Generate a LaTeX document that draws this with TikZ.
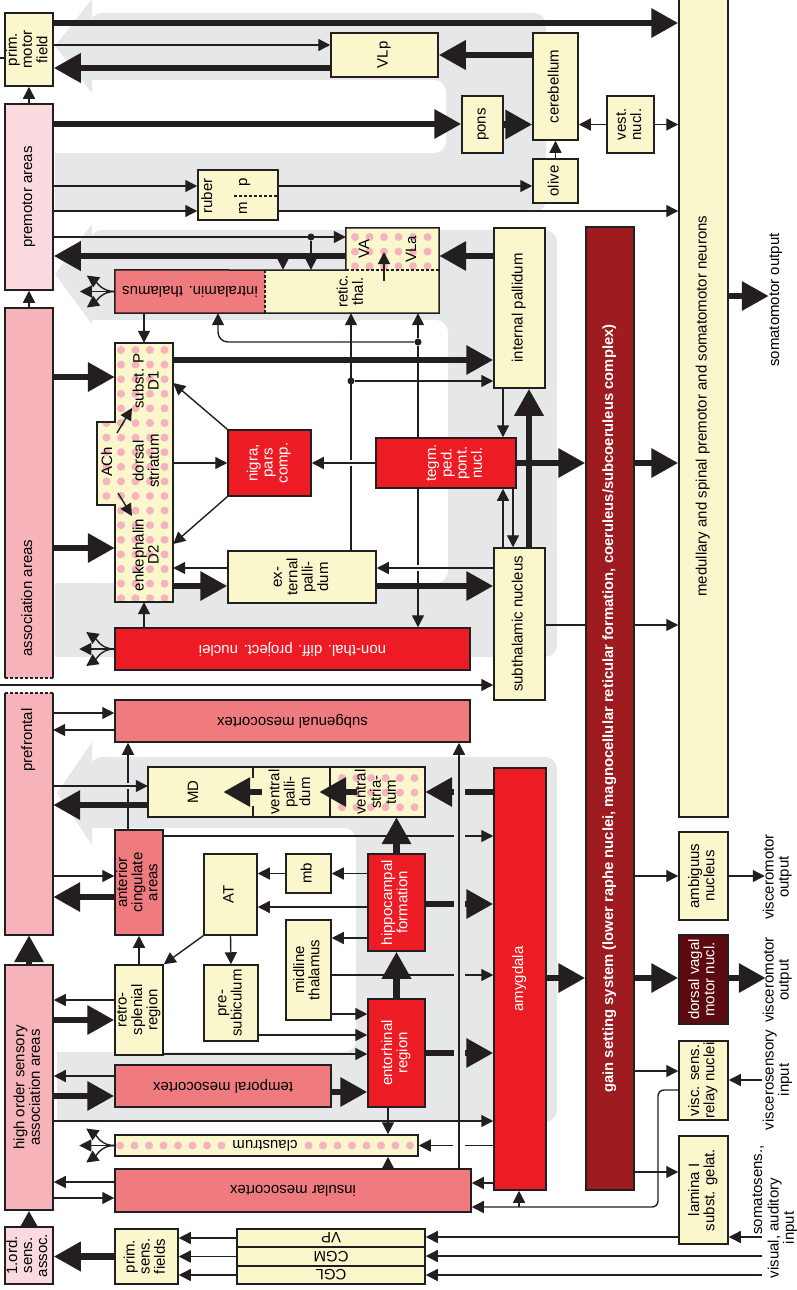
\documentclass[tikz,border=0pt]{standalone}
\usepackage{fontspec}
\setmainfont{Liberation Sans}
\usepackage{graphicx}
\usetikzlibrary{arrows.meta}

\pgfdeclarelayer{background}
\pgfdeclarelayer{edges}
\pgfsetlayers{background,edges,main}

\definecolor{ink}{RGB}{35,31,32}
\definecolor{cream}{RGB}{251,247,204}
\definecolor{blush}{RGB}{250,218,222}
\definecolor{rose}{RGB}{246,180,186}
\definecolor{salmon}{RGB}{239,123,127}
\definecolor{nucred}{RGB}{237,28,36}
\definecolor{gainred}{RGB}{158,27,32}
\definecolor{vagal}{RGB}{92,10,14}
\definecolor{loopgray}{RGB}{230,231,232}
\definecolor{dotpink}{RGB}{246,178,190}

% labels turned to read upwards, and labels turned upside down
\newcommand{\vt}[1]{\rotatebox{90}{\begin{tabular}{@{}c@{}}#1\end{tabular}}}
\newcommand{\ut}[1]{\rotatebox{180}{#1}}

% pink dot grid: columns, rows, x offset, y offset
\tikzset{dots/.style n args={4}{path picture={
  \foreach \i in {1,...,#1} \foreach \j in {1,...,#2}
    \fill[dotpink] ([shift={({#3+(\i-1)*14.5},{#4+(\j-1)*14.6})}]path picture bounding box.north west) circle (4pt);}}}

\begin{document}
\begin{tikzpicture}[x=1pt,y=-1pt,font=\fontsize{15}{15}\selectfont]
  \tikzstyle{box}=[draw=ink,line width=1.5pt,inner sep=0pt,fill=cream]
  \tikzstyle{bare}=[inner sep=0pt,fill=cream]
  \tikzstyle{rim}=[draw=ink,line width=1.5pt]
  \tikzstyle{rimdash}=[rim,dash pattern=on 3pt off 2pt]
  \tikzstyle{line}=[draw=ink,line width=1.4pt]
  \tikzstyle{arr}=[line,-{Triangle[length=12pt,width=12pt]}]
  \tikzstyle{fat}=[draw=ink,line width=6.5pt,-{Triangle[length=27pt,width=28pt]}]
  \tikzstyle{hub}=[circle,fill=ink,inner sep=0pt,minimum size=7pt]
  \tikzstyle{gap}=[line width=6pt]
  \useasboundingbox (0,0) rectangle (797,1290);

  % cortex column
  \node[box,minimum width=48,minimum height=73] (primmotor) at (29,49.5) {\vt{prim.\\motor\\field}};
  \node[box,fill=blush,minimum width=48,minimum height=186] (premotor) at (29,197) {\vt{premotor areas}};
  \node[bare,fill=rose,minimum width=48,minimum height=370] (assoc) at (29,493) {};
  \node (assoctext) at (29,598) {\vt{association areas}};
  \draw[rim] (assoc.south west) -- (assoc.north west) -- (assoc.north east) -- (assoc.south east);
  \draw[rimdash] (assoc.south west) -- (assoc.south east);
  \node[bare,fill=rose,minimum width=48,minimum height=242] (prefrontal) at (29,814) {};
  \node (preftext) at (29,740) {\vt{prefrontal}};
  \draw[rim] (prefrontal.north west) -- (prefrontal.south west) -- (prefrontal.south east) -- (prefrontal.north east);
  \draw[rimdash] (prefrontal.north west) -- (prefrontal.north east);
  \node[box,fill=rose,minimum width=48,minimum height=245] (hisens) at (29,1087.5) {\vt{high order sensory\\association areas}};
  \node[box,fill=blush,minimum width=48,minimum height=57] (firstord) at (29,1255.5) {\vt{1.ord.\\sens.\\assoc.}};

  % motor and cerebellar stations
  \node[box,minimum width=107,minimum height=44] (vlp) at (384.5,55) {\vt{VLp}};
  \node[box,minimum width=45,minimum height=107] (cerebellum) at (555.5,86.5) {\vt{cerebellum}};
  \node[box,minimum width=41,minimum height=57] (pons) at (482.5,124.5) {\vt{pons}};
  \node[box,minimum width=45,minimum height=44] (olive) at (555.5,181) {\vt{olive}};
  \node[box,minimum width=47,minimum height=57] (vest) at (630.5,124.5) {\vt{vest.\\nucl.}};
  \node[box,minimum width=80,minimum height=50] (ruber) at (238,195) {};
  \node (rubertext) at (209,196) {\vt{ruber}};
  \node (rubp) at (244,182) {\vt{p}};
  \node (rubm) at (244,208) {\vt{m}};
  \draw[rimdash,line width=1.2pt] (234,196) -- (ruber.east |- 0,196);
  \node[box,minimum width=49,minimum height=822] (medullary) at (703.5,406) {\vt{medullary and spinal premotor and somatomotor neurons}};
  \node[box,fill=gainred,text=white,font=\fontsize{14.8}{15}\selectfont\bfseries,minimum width=48,minimum height=963] (gain) at (610,708.5) {\vt{gain setting system (lower raphe nuclei, magnocellular reticular formation, coeruleus/subcoeruleus complex)}};

  % thalamus and basal ganglia
  \node[bare,fill=salmon,minimum width=150,minimum height=43] (intralamin) at (190,291.5) {\ut{intralamin. thalamus}};
  \node[bare,minimum width=174,minimum height=43] (retic) at (352,291.5) {\vt{retic.\\thal.}};
  \node[bare,dots={6}{3}{9}{9},minimum width=93,minimum height=42] (vala) at (392.5,249) {};
  \node (vatext) at (366,249) {\vt{VA}};
  \node (vlatext) at (413,249) {\vt{VLa}};
  \draw[rim] (intralamin.south west) -- (intralamin.north west) -- (vala.south west) -- (vala.north west) -- (vala.north east) -- (retic.south east) -- cycle;
  \draw[rimdash] (intralamin.north east) -- (intralamin.south east);
  \draw[rimdash] (vala.south west) -- (vala.south east);
  \node[box,minimum width=51,minimum height=160] (intpall) at (519.5,308) {\vt{internal pallidum}};
  \node[box,minimum width=51,minimum height=152] (subthal) at (519.5,624) {\vt{subthalamic nucleus}};
  \node[box,fill=nucred,minimum width=140,minimum height=50] (tegm) at (446,463) {};
  \node[text=white] (tegmtext) at (456,463) {\vt{tegm.\\ped.\\pont.\\nucl.}};
  \node[box,fill=nucred,text=white,minimum width=83,minimum height=66] (nigra) at (269.5,463) {\vt{nigra,\\pars\\comp.}};
  \node[box,minimum width=148,minimum height=52] (extpall) at (302,577) {\vt{ex-\\ternal\\palli-\\dum}};
  \node[bare,dots={4}{18}{6}{7},minimum width=58,minimum height=259] (striatum) at (144,472.5) {};
  \node[bare,dots={2}{6}{9.5}{1},minimum width=28,minimum height=83] (ach) at (111,463.5) {};
  \draw[rim] (striatum.north west) -- (striatum.north east) -- (striatum.south east) -- (striatum.south west)
    -- (ach.south west -| striatum.west) -- (ach.south west) -- (ach.north west) -- (ach.north west -| striatum.west) -- cycle;
  \node (d1text) at (148,381) {\vt{subst. P\\D1}};
  \node (dstext) at (148,461) {\vt{dorsal\\striatum}};
  \node (d2text) at (148,555) {\vt{enkephalin\\D2}};
  \node (achtext) at (109,462) {\vt{ACh}};
  \node[box,fill=nucred,text=white,minimum width=355,minimum height=42] (nonthal) at (292.5,649) {\ut{non-thal. diff. project. nuclei}};

  % limbic stations
  \node[box,fill=salmon,minimum width=355,minimum height=42] (subgenual) at (292.5,721) {\ut{subgenual mesocortex}};
  \node[bare,minimum width=105,minimum height=50] (md) at (200.5,792) {};
  \node (mdtext) at (195,792) {\vt{MD}};
  \node[bare,minimum width=77,minimum height=50] (vpall) at (291.5,792) {\vt{ventral\\palli-\\dum}};
  \node[bare,dots={6}{3}{12}{11},minimum width=95,minimum height=50] (vstr) at (377.5,792) {\vt{ventral\\stria-\\tum}};
  \draw[rim] (md.north west) rectangle (vstr.south east);
  \draw[rim] (vpall.north east) -- (vpall.south east);
  \draw[rim] (md.north east) -- ++(0,11);
  \draw[rim] (md.south east) -- ++(0,-11);
  \node[box,fill=salmon,minimum width=48,minimum height=105] (antcing) at (139,882.5) {\vt{anterior\\cingulate\\areas}};
  \node[box,minimum width=53,minimum height=81] (antthal) at (230.5,894.5) {\vt{AT}};
  \node[box,minimum width=45,minimum height=39] (mb) at (308.5,873.5) {\vt{mb}};
  \node[box,minimum width=45,minimum height=100] (midline) at (308.5,970) {\vt{midline\\thalamus}};
  \node[box,fill=nucred,text=white,minimum width=57,minimum height=97] (hippo) at (396.5,902.5) {\vt{hippocampal\\formation}};
  \node[box,fill=nucred,text=white,minimum width=57,minimum height=108] (entorhinal) at (396.5,1053) {\vt{entorhinal\\region}};
  \node[box,fill=nucred,text=white,minimum width=52,minimum height=422] (amygdala) at (520,979) {\vt{amygdala}};
  \node[box,minimum width=48,minimum height=90] (retro) at (139,1010) {\vt{retro-\\splenial\\region}};
  \node[box,minimum width=54,minimum height=76] (presub) at (231,1003) {\vt{pre-\\subiculum}};
  \node[box,fill=salmon,minimum width=216,minimum height=42] (temporal) at (223,1086) {\ut{temporal mesocortex}};
  \node[box,dots={21}{1}{5}{10.5},minimum width=303,minimum height=21] (claustrum) at (266.5,1145.5) {};
  \node[bare,inner xsep=3pt] (claustext) at (265,1145.5) {\ut{claustrum}};
  \node[box,fill=salmon,minimum width=356,minimum height=43] (insular) at (293,1190.5) {\ut{insular mesocortex}};

  % sensory relays
  \node[box,minimum width=188,minimum height=18] (vp) at (331,1238) {\ut{VP}};
  \node[box,minimum width=188,minimum height=19] (cgm) at (331,1256.5) {\ut{CGM}};
  \node[box,minimum width=188,minimum height=18] (cgl) at (331,1275) {\ut{CGL}};
  \node[box,minimum width=63,minimum height=55] (primsens) at (146.5,1256.5) {\vt{prim.\\sens.\\fields}};

  % brainstem outputs and inputs
  \node[box,minimum width=49,minimum height=88] (ambiguus) at (703.5,876) {\vt{ambiguus\\nucleus}};
  \node[box,fill=vagal,text=white,minimum width=49,minimum height=89] (dvagal) at (703.5,979.5) {\vt{dorsal vagal\\motor nucl.}};
  \node[box,minimum width=49,minimum height=79] (viscrelay) at (703.5,1080.5) {\vt{visc. sens.\\relay nuclei}};
  \node[box,minimum width=49,minimum height=108] (lamina) at (703.5,1190) {\vt{lamina I\\subst. gelat.}};
  \node (somlabel) at (776,300) {\vt{somatomotor output}};
  \node (ambilabel) at (778,877) {\vt{visceromotor\\output}};
  \node (vagallabel) at (778,980) {\vt{visceromotor\\output}};
  \node (visclabel) at (778,1080) {\vt{viscerosensory\\input}};
  \node (somsenslabel) at (759,1190) {\vt{somatosens.,}};
  \node (audlabel) at (783,1228) {\vt{visual, auditory\\input}};

  % arrows inside the compound boxes
  \coordinate (retup) at (384,281);
  \coordinate (vaup) at (384,252);
  \draw[arr] (retup) -- (vaup);
  \coordinate (achA) at (117,433);
  \coordinate (achB) at (118,493);
  \draw[arr] (achA) -- ++(15,-25);
  \draw[arr] (achB) -- ++(14,23);
  \draw[fat] ([xshift=-21pt]vstr.center) -- ([xshift=-11pt]vpall.east);
  \draw[fat] ([xshift=9pt]vpall.west) -- ([xshift=-30pt]md.east);
  % long insular to subgenual line, above the limbic arrows
  \draw[arr] (insular.north -| 459,0) -- (subgenual.south -| 459,0);

  \begin{pgfonlayer}{background}
    % cerebellar loop
    \fill[loopgray,rounded corners=12] (90,13) rectangle (546,212);
    \fill[white,rounded corners=12] (40,80) rectangle (446,153);
    \fill[loopgray] (55,153) rectangle (100,212);
    \fill[loopgray] (55,46) -- (92,-1) -- (92,93) -- cycle;
    % basal ganglia loop
    \fill[loopgray,rounded corners=12] (90,230) rectangle (557,657);
    \fill[white,rounded corners=12] (40,320) rectangle (448,583);
    \fill[loopgray] (55,583) rectangle (100,657);
    \fill[loopgray] (55,274) -- (92,224) -- (92,324) -- cycle;
    % limbic loop
    \fill[loopgray,rounded corners=12] (90,757) rectangle (557,1122);
    \fill[white,rounded corners=12] (40,828) rectangle (356,1052);
    \fill[loopgray] (57,1052) rectangle (100,1122);
    \fill[loopgray] (57,793) -- (92,742) -- (92,845) -- cycle;
  \end{pgfonlayer}

  \begin{pgfonlayer}{edges}
  % motor cortex, cerebellum and brainstem
  \coordinate (outleft) at (0,58);
  \draw[line] (primmotor.west |- outleft) -- (outleft);
  \draw[fat] (primmotor.east |- 0,23) -- (medullary.west |- 0,23);
  \draw[arr] (primmotor.east |- 0,45) -- (vlp.west |- 0,45);
  \draw[fat] (vlp.west |- 0,68) -- (primmotor.east |- 0,68);
  \draw[fat] (cerebellum.west |- 0,55) -- (vlp.east |- 0,55);
  \draw[arr] (premotor.north) -- (primmotor.south);
  \draw[arr] (assoc.north) -- (premotor.south);
  \draw[fat] (premotor.east |- 0,124) -- (pons.west |- 0,124);
  \draw[fat] (pons.east) -- (cerebellum.west |- pons.east);
  \draw[arr] (olive.north) -- (cerebellum.south);
  \draw[arr] (vest.west) -- (cerebellum.east |- vest.west);
  \draw[arr] (vest.east) -- (medullary.west |- vest.east);
  \draw[arr] (premotor.east |- 0,186) -- (ruber.west |- 0,186);
  \draw[arr] (premotor.east |- 0,211) -- (ruber.west |- 0,211);
  \draw[arr] (ruber.east |- 0,186) -- (olive.west |- 0,186);
  \draw[arr] (ruber.east |- 0,211) -- (medullary.west |- 0,211);
  \draw[fat] (medullary.east |- 0,296) -- ++(40,0);

  % thalamic loop
  \draw[arr] (premotor.east |- 0,237) -- (vala.west |- 0,237);
  \node[hub] (hubva) at (311,237) {};
  \draw[arr] (hubva) -- (retic.north -| hubva);
  \draw[fat] (vala.west |- 0,256) -- (premotor.east |- 0,256);
  \coordinate (tapva) at (283,256);
  \draw[arr] (tapva) -- (retic.north -| tapva);
  \draw[fat] (intpall.west |- 0,256) -- (vala.east |- 0,256);
  \draw[arr] (intralamin.west) to[out=180,in=-35] ++(-28,-16);
  \draw[arr] (intralamin.west) -- ++(-35,0);
  \draw[arr] (intralamin.west) to[out=180,in=35] ++(-28,16);
  \draw[arr] (intralamin.south -| striatum.north) -- (striatum.north);

  % basal ganglia
  \node[hub] (hubret) at (418,342) {};
  \draw[arr] (hubret) -- (retic.south -| hubret);
  \draw[arr,rounded corners=10] (hubret) -- (218,342) -- (intralamin.south -| 218,0);
  \draw[arr] (hubret) -- (nonthal.north -| hubret);
  \node[hub] (hubext) at (351,381) {};
  \draw[arr] (extpall.north -| hubext) -- (retic.south -| hubext);
  \draw[arr] (hubext) -- (intpall.west |- hubext);
  \draw[fat] (striatum.east |- 0,360) -- (intpall.west |- 0,360);
  \draw[fat] (assoc.east |- 0,377) -- (striatum.west |- 0,377);
  \draw[fat] (assoc.east |- 0,548) -- (striatum.west |- 0,548);
  \draw[arr] (nigra.north west) -- (striatum.east |- 0,383);
  \draw[arr] (nigra.south west) -- (striatum.east |- 0,544);
  \draw[arr] (striatum.east |- nigra.west) -- (nigra.west);
  \draw[gap,white] (344,463) -- (358,463);
  \draw[arr] (tegm.west) -- (nigra.east);
  \draw[fat] (tegm.east) -- (gain.west |- tegm.east);
  \draw[arr] (intpall.south -| 503,0) -- (tegm.north -| 503,0);
  \draw[arr] (subthal.north -| 503,0) -- (tegm.south -| 503,0);
  \draw[arr] (tegm.south -| 513,0) -- (subthal.north -| 513,0);
  \draw[fat] (subthal.north -| 529,0) -- (intpall.south -| 529,0);
  \draw[gap,white] (411,568) -- (425,568);
  \draw[arr] (subthal.west |- 0,568) -- (extpall.east |- 0,568);
  \draw[fat] (extpall.east |- 0,586) -- (subthal.west |- 0,586);
  \draw[fat] (striatum.east |- 0,586) -- (extpall.west |- 0,586);
  \draw[arr] (extpall.west |- 0,568) -- (striatum.east |- 0,568);
  \draw[arr] (nonthal.north -| striatum.south) -- (striatum.south);
  \draw[arr] (nonthal.west) to[out=180,in=-35] ++(-28,-17);
  \draw[arr] (nonthal.west) -- ++(-35,0);
  \draw[arr] (nonthal.west) to[out=180,in=35] ++(-28,17);
  \coordinate (leftgap) at (0,685);
  \draw[arr] (leftgap) -- (subthal.west |- leftgap);
  \draw[line] (subthal.east |- 0,625) -- (gain.west |- 0,625);
  \draw[arr] (gain.east |- 0,625) -- (medullary.west |- 0,625);
  \draw[fat] (gain.east |- 0,463) -- (medullary.west |- 0,463);

  % limbic loop
  \draw[arr] (prefrontal.east |- 0,713) -- (subgenual.west |- 0,713);
  \draw[arr] (subgenual.west |- 0,730) -- (prefrontal.east |- 0,730);
  \draw[arr] (antcing.north -| 128,0) -- (subgenual.south -| 128,0);
  \draw[gap,loopgray] (121,786) -- (135,786);
  \draw[arr] (prefrontal.east |- 0,786) -- (md.west |- 0,786);
  \draw[fat] (md.west |- 0,805) -- (prefrontal.east |- 0,805);
  \draw[arr] (prefrontal.east |- 0,876) -- (antcing.west |- 0,876);
  \draw[fat] (antcing.west |- 0,897) -- (prefrontal.east |- 0,897);
  \draw[arr] (antcing.east |- 0,836) -- (amygdala.west |- 0,836);
  \draw[fat] (hippo.north) -- (vstr.south -| hippo.north);
  \draw[fat] (amygdala.west |- 0,792) -- (vstr.east |- 0,792);
  \draw[arr] (hippo.west |- mb.east) -- (mb.east);
  \draw[arr] (mb.west) -- (antthal.east |- mb.west);
  \draw[arr] (hippo.west |- 0,907) -- (antthal.east |- 0,907);
  \draw[arr] (hippo.west |- 0,938) -- (midline.east |- 0,938);
  \draw[fat] (hippo.east |- 0,904) -- (amygdala.west |- 0,904);
  \draw[arr] (antthal.south west) -- (retro.north east);
  \draw[arr] (antthal.south) -- (presub.north);
  \draw[arr] (retro.north) -- (antcing.south);
  \draw[arr] (retro.west |- 0,1000) -- (hisens.east |- 0,1000);
  \draw[fat] (hisens.east |- 0,1020) -- (retro.west |- 0,1020);
  \draw[arr] (presub.east |- 0,1035) -- (entorhinal.west |- 0,1035);
  \draw[arr] (retro.east |- 0,1054) -- (entorhinal.west |- 0,1054);
  \draw[arr] (midline.east |- 0,1014) -- (entorhinal.west |- 0,1014);
  \draw[arr] (midline.east |- 0,975) -- (amygdala.west |- 0,975);
  \draw[fat] (entorhinal.north) -- (hippo.south);
  \draw[fat] (entorhinal.east |- 0,1053) -- (amygdala.west |- 0,1053);
  \draw[fat] (temporal.east |- 0,1092) -- (entorhinal.west |- 0,1092);
  \draw[arr] (temporal.west |- 0,1076) -- (hisens.east |- 0,1076);
  \draw[fat] (hisens.east |- 0,1096) -- (temporal.west |- 0,1096);
  \draw[arr] (hisens.east |- 0,1121) -- (amygdala.west |- 0,1121);
  \draw[arr] (entorhinal.south -| 388,0) -- (claustrum.north -| 388,0);
  \draw[arr] (insular.north -| 388,0) -- (claustrum.south -| 388,0);
  \draw[arr] (claustrum.west) to[out=180,in=-35] ++(-28,-17);
  \draw[arr] (claustrum.west) -- ++(-35,0);
  \draw[arr] (claustrum.west) to[out=180,in=35] ++(-28,17);
  \draw[arr] (insular.west |- 0,1182) -- (hisens.east |- 0,1182);
  \draw[arr] (hisens.east |- 0,1198) -- (insular.west |- 0,1198);
  \draw[arr] (amygdala.west |- 0,1183) -- (insular.east |- 0,1183);
  \draw[fat] (hisens.north) -- (prefrontal.south);
  % gaps where the insular to subgenual line crosses
  \draw[loopgray,line width=11pt] (459,758) -- (459,1117);
  \draw[gap,white] (453,1145) -- (465,1145);
  \draw[arr] (amygdala.west |- claustrum.east) -- (claustrum.east);
  \draw[gap,white] (453,1145) -- (465,1145);

  % sensory input
  \draw[arr,rounded corners=6] (viscrelay.west |- 0,1090) -- (658,1090) -- (658,1207) -- (insular.east |- 0,1207);
  \coordinate (visctap) at (519,1207);
  \draw[arr] (visctap) -- (amygdala.south -| visctap);
  \coordinate (somin) at (762,1237);
  \coordinate (visin) at (762,1256);
  \coordinate (audin) at (762,1275);
  \draw[arr] (somin) -- (lamina.east |- somin);
  \draw[arr] (lamina.west |- somin) -- (vp.east |- somin);
  \draw[arr] (visin) -- (cgm.east |- visin);
  \draw[arr] (audin) -- (cgl.east |- audin);
  \draw[arr] (vp.west) -- (primsens.east |- vp.west);
  \draw[arr] (cgm.west) -- (primsens.east |- cgm.west);
  \draw[arr] (cgl.west) -- (primsens.east |- cgl.west);
  \draw[fat] (primsens.west) -- (firstord.east |- primsens.west);
  \draw[fat] (firstord.north) -- (hisens.south);

  % gain setting system
  \draw[fat] (amygdala.east |- 0,978) -- (gain.west |- 0,978);
  \draw[arr] (gain.east |- ambiguus.west) -- (ambiguus.west);
  \draw[arr] (ambiguus.east) -- ++(36,0);
  \draw[fat] (gain.east |- 0,978) -- (dvagal.west |- 0,978);
  \draw[fat] (dvagal.east |- 0,978) -- ++(37,0);
  \draw[arr] (gain.east |- 0,1071) -- (viscrelay.west |- 0,1071);
  \coordinate (viscin) at (762,1080);
  \draw[arr] (viscin) -- (viscrelay.east |- viscin);
  \draw[arr] (gain.east |- 0,1172) -- (lamina.west |- 0,1172);
  \end{pgfonlayer}
\end{tikzpicture}
\end{document}
